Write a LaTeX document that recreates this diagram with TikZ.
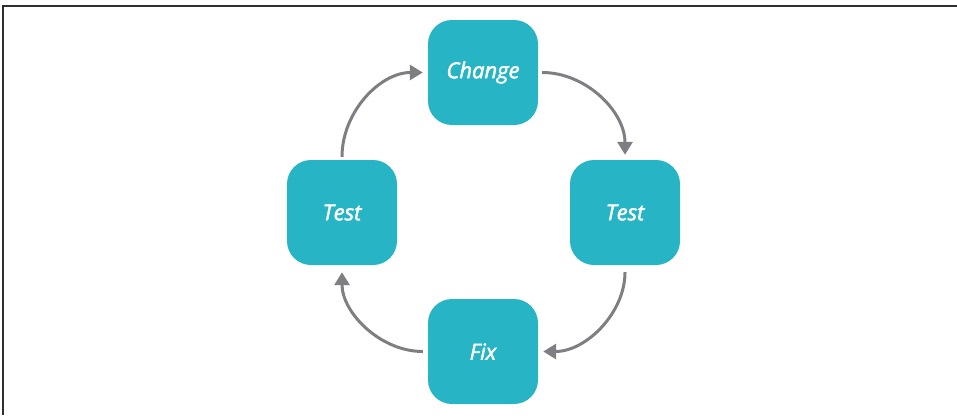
\documentclass[tikz,border=0pt]{standalone}
\usepackage{fontspec}
\setmainfont{Open Sans}
\newfontfamily\boxfont[FakeBold=2, ItalicFeatures={FakeBold=2}]{Open Sans}
\usetikzlibrary{arrows.meta}
\definecolor{teal1}{HTML}{27B4C5}
\definecolor{arrgray}{HTML}{7F7F83}
\definecolor{framegray}{HTML}{2E2E2E}
\tikzset{
  stepbox/.style={draw=none, fill=teal1, rounded corners=24pt, minimum width=110pt, minimum height=105pt, inner sep=0pt,
    text=white, font=\boxfont\fontsize{22}{25}\selectfont\itshape},
  arr/.style={draw=arrgray, line width=3pt, -{Triangle[length=13pt,width=15pt]}, looseness=1},
}
\begin{document}
\begin{tikzpicture}[x=1pt,y=-1pt]
\useasboundingbox (0,0) rectangle (957,415);
\draw[framegray, line width=1.5pt] (3,415) -- (3,6) -- (957,6);
\node[stepbox] (change) at (483,72.5) {\raisebox{5pt}{Change}};
\node[stepbox] (testL) at (342,212.5) {Test};
\node[stepbox] (testR) at (625,212.5) {Test};
\node[stepbox] (fix) at (483,351.5) {Fix};
\draw[arr, shorten <=4pt, shorten >=5pt] (change.east) to[out=0,in=90] (testR.north);
\draw[arr, shorten <=7pt, shorten >=5pt] (testR.south) to[out=-90,in=0] (fix.east);
\draw[arr, shorten <=5pt, shorten >=7pt] (fix.west) to[out=180,in=-90] (testL.south);
\draw[arr, shorten <=3pt, shorten >=5pt] (testL.north) to[out=90,in=180] (change.west);
\end{tikzpicture}
\end{document}
